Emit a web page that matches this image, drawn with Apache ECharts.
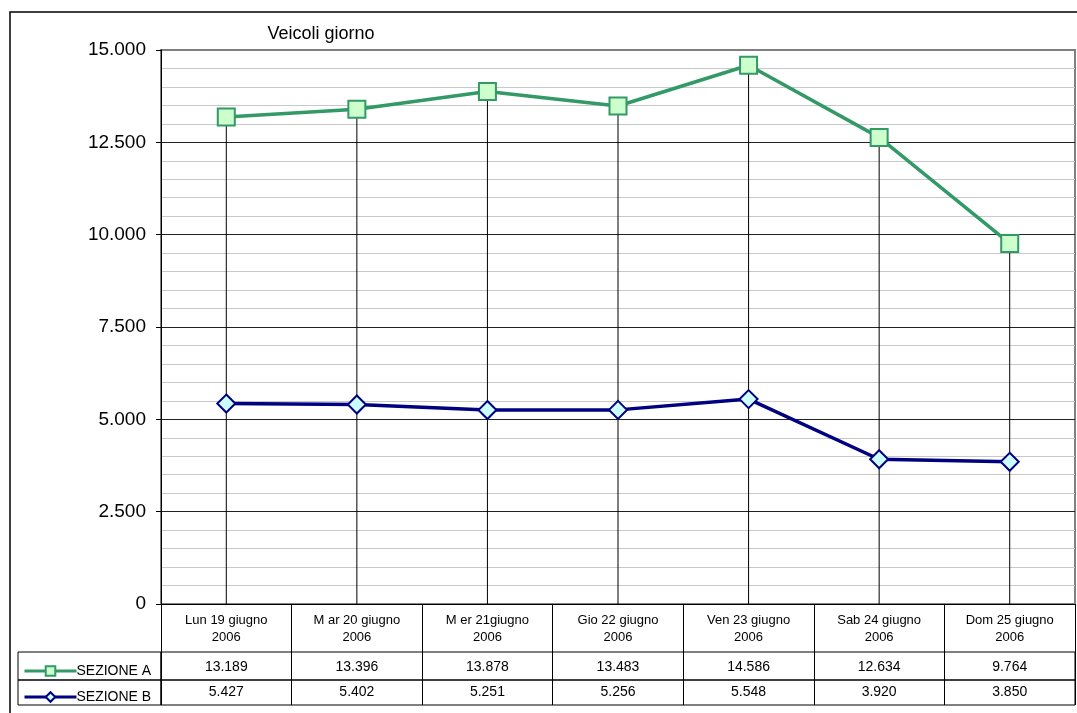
<!DOCTYPE html>
<html>
<head>
<meta charset="utf-8">
<script src="https://cdn.jsdelivr.net/npm/echarts@6/dist/echarts.min.js"></script>
<style>
  html, body { margin: 0; padding: 0; background: #fff; }
  #chart { width: 1077px; height: 713px; }
</style>
</head>
<body>
<div id="chart"></div>
<script>
// Veicoli giorno — Sezione A / B, settimana 19-25 giugno 2006 (line chart + tabella dati)
const CATEGORIES = [
  "Lun 19 giugno\n2006", "M ar 20 giugno\n2006", "M er 21giugno\n2006", "Gio 22 giugno\n2006",
  "Ven 23 giugno\n2006", "Sab 24 giugno\n2006", "Dom 25 giugno\n2006",
];
const SEZIONE_A = [13189, 13396, 13878, 13483, 14586, 12634, 9764];
const SEZIONE_B = [5427, 5402, 5251, 5256, 5548, 3920, 3850];
const Y_TICKS = { min: 0, max: 15000, step: 2500 };

const GREEN = "#339966", NAVY = "#000080";
const FONT = "'Liberation Sans', Arial, sans-serif";

// 1.234 style (punto come separatore delle migliaia)
const fmt = v => String(v).replace(/\B(?=(\d{3})+(?!\d))/g, ".");

const L = 161, R = 2;   // plot area edges shared by chart + table
const chart = echarts.init(document.getElementById("chart"));

const tableRow = (i, top, height, values) => ({
  grid: { left: L, right: R, top, height, show: true, borderColor: "#000", borderWidth: 1 },
  xAxis: {
    gridIndex: i, type: "category", data: values.map(fmt), position: "bottom",
    axisLine: { show: false }, axisTick: { show: false },
    axisLabel: { inside: true, margin: 6, color: "#000", fontSize: 14, fontFamily: FONT, interval: 0 },
    splitLine: { show: true, interval: 0, lineStyle: { color: "#000", width: 1 } },
  },
  yAxis: { gridIndex: i, type: "value", show: false },
});
const rowA = tableRow(1, 652, 28, SEZIONE_A);
const rowB = tableRow(2, 680, 25, SEZIONE_B);

const legendKey = (name, top) => ({
  data: [name], left: 18, top, itemWidth: 52, itemHeight: 12, itemGap: 4,
  lineStyle: { width: 3 },
  textStyle: { fontFamily: FONT, fontSize: 14, color: "#000", padding: [0, 0, 0, -5] },
});

chart.setOption({
  backgroundColor: "#fff",
  animation: false,
  title: {
    text: "Veicoli giorno", left: 316, top: 20, textAlign: "center",
    textStyle: { fontFamily: FONT, fontSize: 18, fontWeight: "normal", color: "#000" },
  },
  legend: [legendKey("SEZIONE A", 659), legendKey("SEZIONE B", 685)],
  grid: [
    { left: L, right: R, top: 50, bottom: 713 - 604, show: true, borderColor: "#808080", borderWidth: 2 },
    rowA.grid, rowB.grid,
  ],
  xAxis: [
    { gridIndex: 0, type: "category", data: CATEGORIES, boundaryGap: true,
      axisLine: { lineStyle: { color: "#000", width: 1 } },
      axisTick: { show: true, interval: 0, length: 48, lineStyle: { color: "#000" } },
      axisLabel: { interval: 0, margin: 8, color: "#000", fontSize: 13, lineHeight: 17, fontFamily: FONT },
      splitLine: { show: false } },
    rowA.xAxis, rowB.xAxis,
  ],
  yAxis: [
    { gridIndex: 0, type: "value", min: Y_TICKS.min, max: Y_TICKS.max, interval: Y_TICKS.step,
      axisLine: { show: true, lineStyle: { color: "#000" } },
      axisTick: { show: true, length: 5, lineStyle: { color: "#000" } },
      axisLabel: { color: "#000", fontSize: 19, fontFamily: FONT, margin: 15, formatter: v => fmt(v) },
      splitLine: { show: true, lineStyle: { color: ["#000", "#222", "#222", "#222", "#222", "#222", "#808080"], width: 1 } },
      minorTick: { show: false, splitNumber: 5 },
      minorSplitLine: { show: true, lineStyle: { color: "#c8c8c8", width: 1 } } },
    rowA.yAxis, rowB.yAxis,
  ],
  series: [
    { name: "drop", type: "bar", xAxisIndex: 0, yAxisIndex: 0, data: SEZIONE_A,
      barWidth: 1, itemStyle: { color: "#000" }, z: 1, silent: true },
    { name: "SEZIONE A", type: "line", xAxisIndex: 0, yAxisIndex: 0, data: SEZIONE_A, z: 3,
      symbol: "rect", symbolSize: 17, showAllSymbol: true,
      lineStyle: { color: GREEN, width: 3.5 },
      itemStyle: { color: "#ccffcc", borderColor: GREEN, borderWidth: 2 } },
    { name: "SEZIONE B", type: "line", xAxisIndex: 0, yAxisIndex: 0, data: SEZIONE_B, z: 3,
      symbol: "diamond", symbolSize: 18, showAllSymbol: true,
      lineStyle: { color: NAVY, width: 3.5 },
      itemStyle: { color: "#ccffff", borderColor: NAVY, borderWidth: 2 } },
  ],
  graphic: [
    // outer chart frame (clipped at right/bottom like the source)
    { type: "rect", shape: { x: 10, y: 12, width: 1200, height: 800 }, z: 0,
      style: { fill: null, stroke: "#000", lineWidth: 1.5 }, silent: true },
    // key column of the data table
    { type: "rect", shape: { x: 18, y: 652, width: L - 18, height: 28 },
      style: { fill: null, stroke: "#000", lineWidth: 1 }, silent: true },
    { type: "rect", shape: { x: 18, y: 680, width: L - 18, height: 25 },
      style: { fill: null, stroke: "#000", lineWidth: 1 }, silent: true },
  ],
});
</script>
</body>
</html>
